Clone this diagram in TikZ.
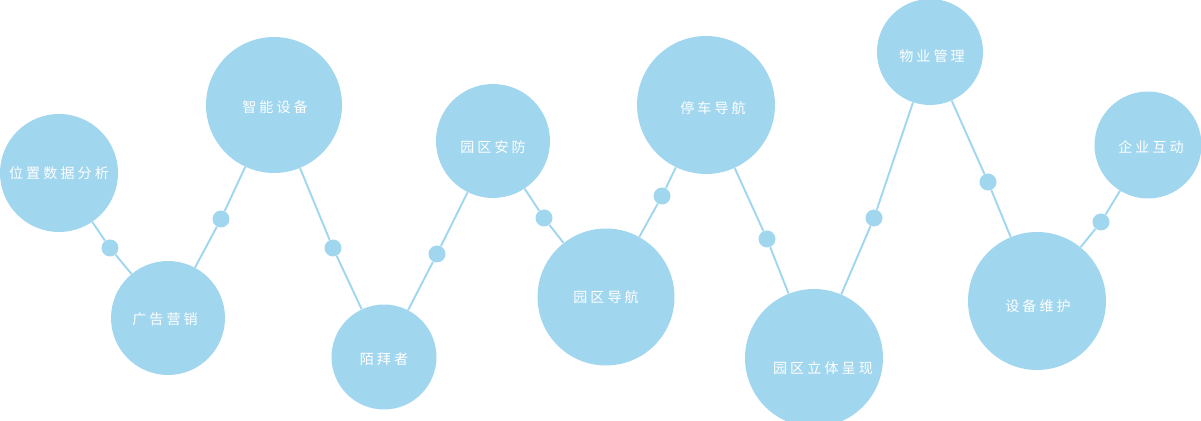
\documentclass[tikz,border=0pt]{standalone}
\usepackage{fontspec}
\newfontfamily\cjkfont[LetterSpace=22]{Noto Sans CJK SC}
\definecolor{bubbleblue}{HTML}{A1D6EF}

\begin{document}
\begin{tikzpicture}[x=0.02cm, y=-0.02cm,
  font=\cjkfont\fontsize{8pt}{9.5pt}\selectfont,
  ball/.style={circle, fill=bubbleblue, inner sep=0pt},
  txt/.style={text=white, inner sep=0pt},
  knot/.style={circle, fill=bubbleblue, inner sep=0pt, minimum size=0.34cm},
  link/.style={draw=bubbleblue, line width=1.1pt}]
  \useasboundingbox (0,0) rectangle (1201,421);
  % bubbles
  \node[ball, minimum size=2.36cm, label={[txt]center:位置数据分析}] (pos) at (59,173) {};
  \node[ball, minimum size=2.28cm, label={[txt, shift={(-3,1)}]center:广告营销}] (ads) at (168,318) {};
  \node[ball, minimum size=2.72cm, label={[txt, shift={(1,2)}]center:智能设备}] (dev) at (274,105) {};
  \node[ball, minimum size=2.10cm, label={[txt, shift={(0,2)}]center:陌拜者}] (vis) at (384,357) {};
  \node[ball, minimum size=2.28cm, label={[txt, shift={(0,6)}]center:园区安防}] (sec) at (493,141) {};
  \node[ball, minimum size=2.74cm, label={[txt]center:园区导航}] (nav) at (606,297) {};
  \node[ball, minimum size=2.76cm, label={[txt, shift={(7,3)}]center:停车导航}] (park) at (706,105) {};
  \node[ball, minimum size=2.76cm, label={[txt, shift={(9,10)}]center:园区立体呈现}] (view) at (814,358) {};
  \node[ball, minimum size=2.12cm, label={[txt, shift={(2,4)}]center:物业管理}] (prop) at (930,52) {};
  \node[ball, minimum size=2.76cm, label={[txt, shift={(1,5)}]center:设备维护}] (fix) at (1037,301) {};
  \node[ball, minimum size=2.14cm, label={[txt, shift={(3,2)}]center:企业互动}] (firm) at (1148,145) {};
  % small dots
  \node[knot] (k1) at (110,248) {};
  \node[knot] (k2) at (221,219) {};
  \node[knot] (k3) at (333,248) {};
  \node[knot] (k4) at (437,254) {};
  \node[knot] (k5) at (544,218) {};
  \node[knot] (k6) at (662,196) {};
  \node[knot] (k7) at (767,239) {};
  \node[knot] (k8) at (874,218) {};
  \node[knot] (k9) at (988,182) {};
  \node[knot] (k10) at (1101,222) {};
  % links
  \draw[link] (pos) -- (k1) -- (ads) -- (k2) -- (dev) -- (k3) -- (vis) -- (k4) -- (sec)
    -- (k5) -- (nav) -- (k6) -- (park) -- (k7) -- (view) -- (k8) -- (prop) -- (k9)
    -- (fix) -- (k10) -- (firm);
\end{tikzpicture}
\end{document}
